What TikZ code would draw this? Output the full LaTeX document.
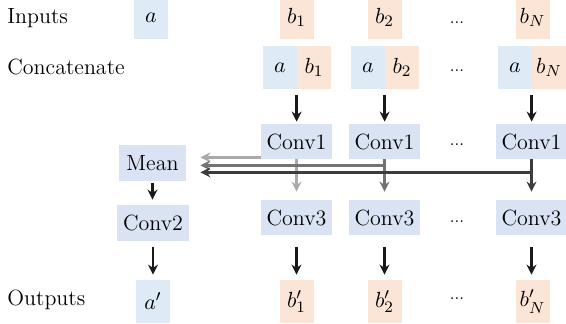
\documentclass[tikz,border=0pt]{standalone}
\usepackage{xcolor}
\usepackage{tikz}
\usetikzlibrary{arrows.meta, calc}
\definecolor{lightblue}{HTML}{DEEBF7}
\definecolor{convblue}{HTML}{DAE3F3}
\definecolor{lightpeach}{HTML}{FBE5D6}
\definecolor{arrlight}{RGB}{170,170,170}
\definecolor{arrmid}{RGB}{115,115,115}
\definecolor{arrdark}{RGB}{60,60,60}

\begin{document}
\begin{tikzpicture}[
  x=0.5pt, y=-0.5pt,
  font=\fontsize{11}{13}\selectfont,
  abox/.style={rectangle, fill=lightblue, inner sep=0pt,
               minimum width=17pt, minimum height=21.5pt},
  bbox/.style={rectangle, fill=lightpeach, inner sep=0pt,
               minimum width=17pt, minimum height=21.5pt},
  convbox/.style={rectangle, fill=convblue, inner sep=0pt,
                  minimum width=35.5pt, minimum height=17.5pt},
  rowlbl/.style={anchor=west, inner sep=0pt},
  dots/.style={font=\fontsize{8}{9}\selectfont, inner sep=0pt},
  arr/.style={-{Stealth[length=5pt, width=5pt]}, line width=1.2pt, draw=black!90},
  grayL/.style={-{Stealth[length=5pt, width=5pt]}, line width=1.2pt, draw=arrlight},
  grayM/.style={-{Stealth[length=5pt, width=5pt]}, line width=1.2pt, draw=arrmid},
  grayD/.style={-{Stealth[length=5pt, width=5pt]}, line width=1.2pt, draw=arrdark}
]
\useasboundingbox (0,0) rectangle (566,324);

% Row labels
\node[rowlbl] (lblIn)  at (7, 18)  {Inputs};
\node[rowlbl] (lblCat) at (7, 67)  {Concatenate};
\node[rowlbl] (lblOut) at (7, 300) {Outputs};

% Inputs
\node[abox] (in_a)  at (151,   17.5) {$a$};
\node[bbox] (in_b1) at (296.5, 17.5) {$b_1$};
\node[bbox] (in_b2) at (384.5, 17.5) {$b_2$};
\node[bbox] (in_bN) at (532.5, 17.5) {$b_N$};
\node[dots] at (457, 23) {...};

% Concatenate
\node[abox] (cat_a1) at (280,   67.5) {$a$};
\node[bbox] (cat_b1) at (314,   67.5) {$b_1$};
\node[abox] (cat_a2) at (368,   67.5) {$a$};
\node[bbox] (cat_b2) at (402,   67.5) {$b_2$};
\node[abox] (cat_aN) at (515,   67.5) {$a$};
\node[bbox] (cat_bN) at (549,   67.5) {$b_N$};
\node[dots] at (457, 71) {...};

% Conv1
\node[convbox] (conv1_1) at (296.5, 141.5) {Conv1};
\node[convbox] (conv1_2) at (384.5, 141.5) {Conv1};
\node[convbox] (conv1_N) at (531.5, 141.5) {Conv1};
\node[dots] at (457, 145) {...};

% Mean and Conv2
\node[convbox, minimum width=33.5pt, minimum height=18pt] (mean)  at (152.5, 163) {Mean};
\node[convbox, minimum width=36pt,   minimum height=18pt] (conv2) at (153,   223) {Conv2};

% Conv3
\node[convbox] (conv3_1) at (296.5, 217.5) {Conv3};
\node[convbox] (conv3_2) at (384.5, 217.5) {Conv3};
\node[convbox] (conv3_N) at (531.5, 217.5) {Conv3};
\node[dots] at (457, 222) {...};

% Outputs
\node[abox] (out_a)  at (153,   301.5) {$a'$};
\node[bbox] (out_b1) at (296.5, 301.5) {$b'_1$};
\node[bbox] (out_b2) at (384.5, 301.5) {$b'_2$};
\node[bbox] (out_bN) at (532.5, 301.5) {$b'_N$};
\node[dots] at (457, 299) {...};

% Concatenate -> Conv1
\draw[arr, shorten <=3pt, shorten >=1pt] (cat_b1.south west) -- (cat_b1.south west |- conv1_1.north);
\draw[arr, shorten <=3pt, shorten >=1pt] (cat_b2.south west) -- (cat_b2.south west |- conv1_2.north);
\draw[arr, shorten <=3pt, shorten >=1pt] (cat_bN.south west) -- (cat_bN.south west |- conv1_N.north);

% Conv1 -> Mean (taps)
\coordinate (mean_in) at ($(mean.east)+(14,0)$);
\coordinate (tap1) at ($(conv1_1.south west)+(0,-2)$);
\coordinate (tap2) at ($(conv1_2.south)+(0,6)$);
\coordinate (tap3) at ($(conv1_N.south)+(0,13)$);
\draw[grayL, shorten >=4pt] (conv1_1.south) -- (conv3_1.north);
\draw[grayL] (tap1) -- (tap1 -| mean_in);
\draw[grayM, shorten >=4pt] (conv1_2.south) -- (conv3_2.north);
\draw[grayM] (tap2) -- (tap2 -| mean_in);
\draw[grayD, shorten >=4pt] (conv1_N.south) -- (conv3_N.north);
\draw[grayD] (tap3) -- (tap3 -| mean_in);

% Mean -> Conv2
\draw[arr, shorten <=1pt, shorten >=2.5pt] (mean.south) -- (mean.south |- conv2.north);

% Conv2/Conv3 -> Outputs
\draw[arr, shorten <=3pt, shorten >=2.5pt] (conv2.south) -- (conv2.south |- out_a.north);
\draw[arr, shorten <=6pt, shorten >=2.5pt] (conv3_1.south) -- (conv3_1.south |- out_b1.north);
\draw[arr, shorten <=6pt, shorten >=2.5pt] (conv3_2.south) -- (conv3_2.south |- out_b2.north);
\draw[arr, shorten <=6pt, shorten >=2.5pt] (conv3_N.south) -- (conv3_N.south |- out_bN.north);

\end{tikzpicture}
\end{document}
